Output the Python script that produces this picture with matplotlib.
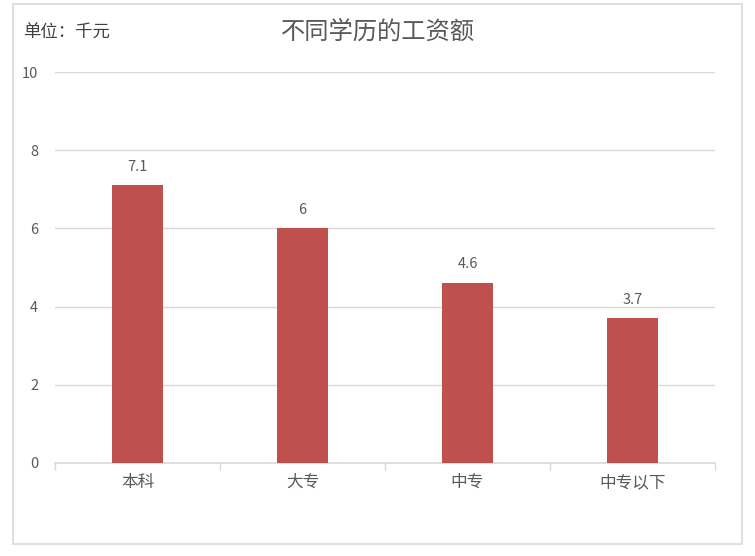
import matplotlib.pyplot as plt
from matplotlib.patches import Rectangle

plt.rcParams['font.family'] = ['Noto Sans CJK SC', 'DejaVu Sans']

categories = ['本科', '大专', '中专', '中专以下']
salaries = [7.1, 6, 4.6, 3.7]
value_labels = ['7.1', '6', '4.6', '3.7']
yticks = [0, 2, 4, 6, 8, 10]

text_color = '#595959'
bar_color = '#C0504D'
grid_color = '#D9D9D9'

fig = plt.figure(figsize=(7.55, 5.56), dpi=100)
# chart border
fig.patches.append(Rectangle((13 / 755, 12 / 556), 729 / 755, 540 / 556,
                             transform=fig.transFigure, fill=False,
                             edgecolor='#D9D9D9', linewidth=1.2))

ax = fig.add_axes([55 / 755, 93 / 556, 660 / 755, 391 / 556])
x = range(len(categories))
ax.bar(x, salaries, width=0.315, color=bar_color, zorder=3)

for xi, v, lab in zip(x, salaries, value_labels):
    ax.text(xi, v + 0.3, lab, ha='center', va='bottom', fontsize=10.5,
            color=text_color)

ax.set_xlim(-0.5, len(categories) - 0.5)
ax.set_ylim(0, 10)
ax.set_yticks(yticks)
ax.set_yticklabels([str(t) for t in yticks], fontsize=10.5, color=text_color)
ax.set_xticks(list(x))
ax.set_xticklabels(categories, fontsize=12, color=text_color)
ax.tick_params(axis='x', length=0, pad=8)
ax.tick_params(axis='y', length=0, pad=12)

# minor ticks at category boundaries
ax.set_xticks([i - 0.5 for i in range(len(categories) + 1)], minor=True)
ax.tick_params(axis='x', which='minor', length=5, color=grid_color, width=1)

ax.grid(axis='y', color=grid_color, linewidth=1, zorder=0)
for s in ['top', 'right', 'left']:
    ax.spines[s].set_visible(False)
ax.spines['bottom'].set_color(grid_color)
ax.spines['bottom'].set_linewidth(1.2)

fig.text(378 / 755, 1 - 32 / 556, '不同学历的工资额', ha='center', va='center',
         fontsize=17.5, color=text_color)
fig.text(23 / 755, 1 - 33 / 556, '单位：千元', ha='left', va='center',
         fontsize=12.5, color='#404040')

fig.savefig('out.png', dpi=100)
